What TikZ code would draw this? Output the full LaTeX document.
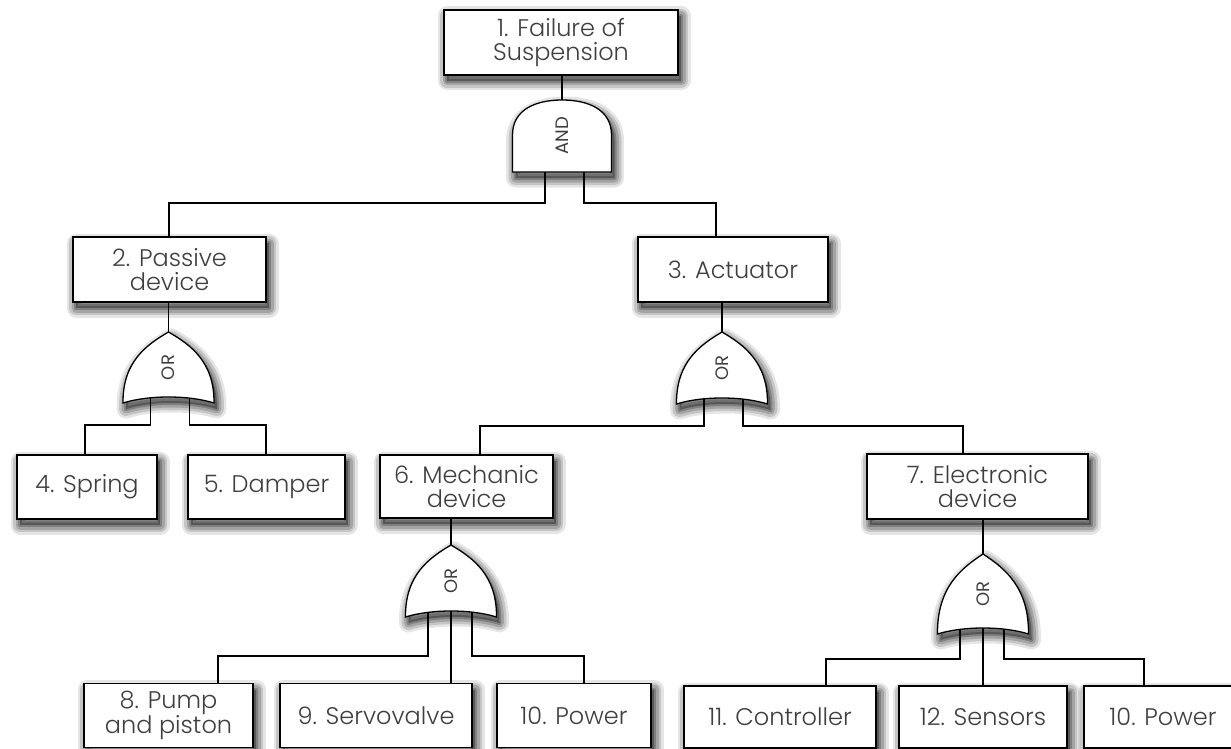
\documentclass[tikz,border=0pt]{standalone}
\usepackage{graphicx}
\usepackage{fontspec}
\setmainfont{Poppins}[UprightFont=* Light]
\newfontfamily\gatefamily{Poppins}
\definecolor{txt}{HTML}{3F3F3F}
\newcommand{\gatetext}[1]{\rotatebox{90}{\gatefamily\fontsize{18}{18}\selectfont #1}}
\tikzset{
  x=1pt, y=-1pt,
  % soft drop shadow built from translucent layers
  shadowlayer/.style 2 args={preaction={transform canvas={shift={(3pt,-6pt)}},
      draw=black, draw opacity=#2, line width=#1, line join=round}},
  softshadow/.style={
    preaction={transform canvas={shift={(3pt,-6pt)}}, fill=black, fill opacity=0.32},
    shadowlayer={19pt}{0.10},
    shadowlayer={14pt}{0.14},
    shadowlayer={9pt}{0.17},
    shadowlayer={4pt}{0.22}},
  event/.style={draw=black, line width=1.3pt, fill=white, softshadow,
      inner sep=0pt, text=txt, align=center,
      font=\fontsize{24}{24}\selectfont},
  gatebody/.style={draw=black, line width=1.3pt, fill=white, softshadow},
  gatelabel/.style={inner sep=0pt, text=txt},
  wire/.style={draw=black, line width=1.3pt},
  andgate/.pic={
    \path[gatebody] (-49.5,0) -- (-49.5,-37)
      .. controls (-49.5,-62) and (-27,-72) .. (0,-72)
      .. controls (27,-72) and (49.5,-62) .. (49.5,-37)
      -- (49.5,0) -- cycle;
    \coordinate (-top) at (0,-72);
    \coordinate (-mid) at (0,-36);
    \coordinate (-l) at (-17,0);
    \coordinate (-r) at (22,0);
  },
  orgate/.pic={
    \path[gatebody] (-45.5,0)
      .. controls (-46,{-0.58*#1}) and (-22,{-0.82*#1}) .. (0,-#1)
      .. controls (22,{-0.82*#1}) and (46,{-0.58*#1}) .. (45.5,0)
      .. controls (20,-8) and (-20,-8) .. cycle;
    \coordinate (-top) at (0,-#1);
    \coordinate (-mid) at (0,{-0.5*#1});
    \coordinate (-l) at (-18,-5);
    \coordinate (-r) at (21,-5);
    \coordinate (-m) at (0,-6);
    \coordinate (-ll) at (-23,-4.5);
  }
}
\begin{document}
\begin{tikzpicture}
\useasboundingbox (0,0) rectangle (1231,749);
\clip (0,0) rectangle (1231,749);

% events
\node[event, minimum width=234pt, minimum height=65pt] (e1) at (561,42.5) {1. Failure of\\Suspension};
\node[event, minimum width=193pt, minimum height=65pt] (e2) at (169.5,269.5) {2. Passive\\device};
\node[event, minimum width=190pt, minimum height=65pt] (e3) at (733,269.5) {3. Actuator};
\node[event, minimum width=140pt, minimum height=64pt] (e4) at (87,487) {4. Spring};
\node[event, minimum width=157pt, minimum height=64pt] (e5) at (266.5,487) {5. Damper};
\node[event, minimum width=173pt, minimum height=63pt] (e6) at (466.5,486.5) {6. Mechanic\\device};
\node[event, minimum width=221pt, minimum height=65pt] (e7) at (977.5,486.5) {7. Electronic\\device};
\node[event, minimum width=169pt, minimum height=64pt] (e8) at (168.5,715.5) {8. Pump\\and piston};
\node[event, minimum width=192pt, minimum height=64pt] (e9) at (376,715.5) {9. Servovalve};
\node[event, minimum width=154pt, minimum height=64pt] (e10) at (574,715.5) {10. Power};
\node[event, minimum width=192pt, minimum height=62pt] (e11) at (780,717) {11. Controller};
\node[event, minimum width=168pt, minimum height=62pt] (e12) at (983,717) {12. Sensors};
\node[event, minimum width=158pt, minimum height=62pt] (e13) at (1163,717) {10. Power};

% gates
\pic (andg) at (562,172) {andgate};
\pic (ora) at (168.5,403) {orgate=71};
\pic (orb) at (722,404) {orgate=72};
\pic (orc) at (451,617) {orgate=72};
\pic (ord) at (983,634) {orgate=80};

% gate labels
\node[gatelabel] (andg-text) at (andg-mid) {\gatetext{AND}};
\node[gatelabel] (ora-text) at (ora-mid) {\gatetext{OR}};
\node[gatelabel] (orb-text) at (orb-mid) {\gatetext{OR}};
\node[gatelabel] (orc-text) at (orc-mid) {\gatetext{OR}};
\node[gatelabel] (ord-text) at (ord-mid) {\gatetext{OR}};

% junctions on the horizontal buses
\coordinate (j2) at (169,203);
\coordinate (j3) at (716,203);
\coordinate (j4) at (85,425);
\coordinate (j5) at (266,425);
\coordinate (j6) at (480,426);
\coordinate (j7) at (963,426);
\coordinate (j8) at (218,656);
\coordinate (j10) at (584,656);
\coordinate (j11) at (826,659);
\coordinate (j13) at (1144,659);

% event to gate
\draw[wire] (e1.south -| andg-top) -- (andg-top);
\draw[wire] (e2.south -| ora-top) -- (ora-top);
\draw[wire] (e3.south -| orb-top) -- (orb-top);
\draw[wire] (e6.south -| orc-top) -- (orc-top);
\draw[wire] (e7.south -| ord-top) -- (ord-top);

% gate to events
\draw[wire] (andg-l) |- (j2) -- (j2 |- e2.north);
\draw[wire] (andg-r) |- (j3) -- (j3 |- e3.north);
\draw[wire] (ora-l) |- (j4) -- (j4 |- e4.north);
\draw[wire] (ora-r) |- (j5) -- (j5 |- e5.north);
\draw[wire] (orb-l) |- (j6) -- (j6 |- e6.north);
\draw[wire] (orb-r) |- (j7) -- (j7 |- e7.north);
\draw[wire] (orc-ll) |- (j8) -- (j8 |- e8.north);
\draw[wire] (orc-m) -- (orc-m |- e9.north);
\draw[wire] (orc-r) |- (j10) -- (j10 |- e10.north);
\draw[wire] (ord-ll) |- (j11) -- (j11 |- e11.north);
\draw[wire] (ord-m) -- (ord-m |- e12.north);
\draw[wire] (ord-r) |- (j13) -- (j13 |- e13.north);
\end{tikzpicture}
\end{document}
